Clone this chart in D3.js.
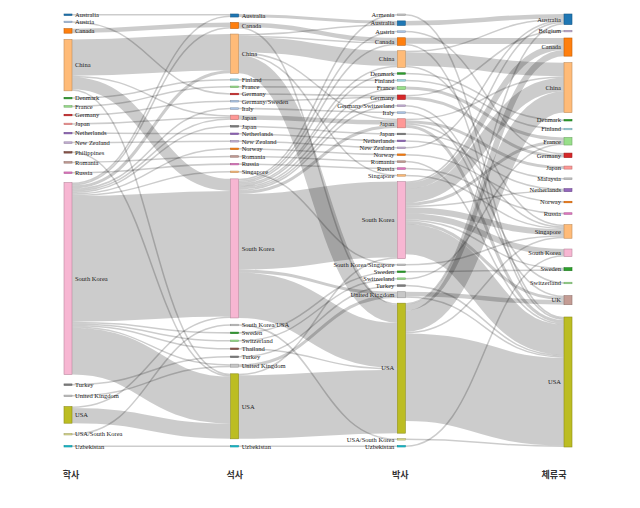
<!DOCTYPE html>
<html><head><meta charset="utf-8">
<script src="https://cdn.jsdelivr.net/npm/d3@7"></script>
<style>
html,body{margin:0;padding:0;background:#fff;}
svg{display:block;}
</style></head>
<body>
<svg id="chart" width="640" height="508"></svg>
<script>
// ---------------- DATA ----------------
const columnTitles = ["학사", "석사", "박사", "체류국"];

const bachelorNodes = ["Australia","Austria","Canada","China","Denmark","France","Germany","Japan","Netherlands","New Zealand","Philippines","Romania","Russia","South Korea","Turkey","United Kingdom","USA","USA/South Korea","Uzbekistan"];
const masterNodes = ["Australia","Canada","China","Finland","France","Germany","Germany/Sweden","Italy","Japan","Japan_2","Netherlands","New Zealand","Norway","Romania","Russia","Singapore","South Korea","South Korea/USA","Sweden","Switzerland","Thailand","Turkey","United Kingdom","USA","Uzbekistan"];
const phdNodes = ["Armenia","Australia","Austria","Canada","China","Denmark","Finland","France","Germany","Germany/Switzerland","Italy","Japan","Japan_2","Netherlands","New Zealand","Norway","Romania","Russia","Singapore","South Korea","South Korea/Singapore","Sweden","Switzerland","Turkey","United Kingdom","USA","USA/South Korea","Uzbekistan"];
const residenceNodes = ["Australia","Belgium","Canada","China","Denmark","Finland","France","Germany","Japan","Malaysia","Netherlands","Norway","Russia","Singapore","South Korea","Sweden","Switzerland","UK","USA"];

const bachelorToMaster = [
  ["Australia","Australia",1],
  ["Austria","Germany",1],
  ["Canada","Canada",3],
  ["China","China",24],["China","Japan",1],["China","South Korea",8],["China","USA",1],
  ["Denmark","Finland",1],
  ["France","France",1],
  ["Germany","Germany/Sweden",1],
  ["Japan","Japan",1],
  ["Netherlands","Netherlands",1],
  ["New Zealand","New Zealand",1],
  ["Philippines","USA",1],
  ["Romania","Romania",1],
  ["Russia","Russia",1],
  ["South Korea","Australia",1],["South Korea","Canada",1],["South Korea","China",2],["South Korea","Italy",1],
  ["South Korea","Japan",1],["South Korea","Japan_2",1],["South Korea","Norway",1],["South Korea","Singapore",1],
  ["South Korea","South Korea",83],["South Korea","Sweden",1],["South Korea","Switzerland",1],["South Korea","Thailand",1],
  ["South Korea","United Kingdom",1],["South Korea","USA",31],
  ["Turkey","Turkey",1],
  ["United Kingdom","United Kingdom",1],
  ["USA","South Korea",1],["USA","USA",10],
  ["USA/South Korea","South Korea/USA",1],
  ["Uzbekistan","Uzbekistan",1]
];

const masterToPhd = [
  ["Australia","Australia",2],
  ["Canada","Canada",3],["Canada","USA",1],
  ["China","Australia",1],["China","Canada",1],["China","China",10],["China","Japan",1],["China","Singapore",1],["China","USA",12],
  ["Finland","Finland",1],
  ["France","France",1],
  ["Germany","Germany",1],
  ["Germany/Sweden","Germany",1],
  ["Italy","Italy",1],
  ["Japan","Japan",3],
  ["Japan_2","Japan_2",1],
  ["Netherlands","Netherlands",1],
  ["New Zealand","New Zealand",1],
  ["Norway","Norway",1],
  ["Romania","Romania",1],
  ["Russia","Russia",1],
  ["Singapore","South Korea/Singapore",1],
  ["South Korea","Armenia",1],["South Korea","Austria",1],["South Korea","Canada",1],["South Korea","China",1],
  ["South Korea","Denmark",1],["South Korea","France",1],["South Korea","Germany",1],["South Korea","Germany/Switzerland",1],
  ["South Korea","Japan",2],["South Korea","South Korea",50],["South Korea","United Kingdom",2],["South Korea","USA",30],
  ["South Korea/USA","USA/South Korea",1],
  ["Sweden","Sweden",1],
  ["Switzerland","Switzerland",1],
  ["Thailand","USA",1],
  ["Turkey","Turkey",1],
  ["United Kingdom","United Kingdom",2],
  ["USA","South Korea",1],["USA","USA",42],
  ["Uzbekistan","Uzbekistan",1]
];

const phdToResidence = [
  ["Armenia","USA",1],
  ["Australia","Australia",3],
  ["Austria","Germany",1],
  ["Canada","Canada",4],["Canada","USA",1],
  ["China","Australia",1],["China","China",9],["China","Singapore",1],
  ["Denmark","Denmark",1],
  ["Finland","Finland",1],
  ["France","France",2],
  ["Germany","Belgium",1],["Germany","Germany",2],
  ["Germany/Switzerland","Switzerland",1],
  ["Italy","UK",1],
  ["Japan","China",1],["Japan","Japan",2],["Japan","Singapore",1],["Japan","USA",2],
  ["Japan_2","Malaysia",1],
  ["Netherlands","Netherlands",1],
  ["New Zealand","Australia",1],
  ["Norway","Norway",1],
  ["Romania","USA",1],
  ["Russia","Russia",1],
  ["Singapore","Singapore",1],
  ["South Korea","Australia",1],["South Korea","Canada",4],["South Korea","China",9],["South Korea","France",2],
  ["South Korea","Netherlands",1],["South Korea","Singapore",4],["South Korea","South Korea",4],["South Korea","Sweden",1],
  ["South Korea","UK",2],["South Korea","USA",20],
  ["South Korea/Singapore","Singapore",1],
  ["Sweden","Sweden",1],
  ["Switzerland","France",1],
  ["Turkey","USA",1],
  ["United Kingdom","UK",3],["United Kingdom","USA",1],
  ["USA","Australia",1],["USA","Canada",4],["USA","China",14],["USA","Singapore",1],["USA","USA",58],
  ["USA/South Korea","USA",1],
  ["Uzbekistan","South Korea",1]
];

// ---------------- STYLE ----------------
const nodeColors = {
  "Australia":"#1f77b4","Austria":"#aec7e8","Canada":"#ff7f0e","China":"#ffbb78","Denmark":"#2ca02c",
  "France":"#98df8a","Germany":"#d62728","Japan":"#ff9896","Netherlands":"#9467bd","New Zealand":"#c5b0d5",
  "Philippines":"#8c564b","Romania":"#c49c94","Russia":"#e377c2","South Korea":"#f7b6d2","Turkey":"#7f7f7f",
  "United Kingdom":"#c7c7c7","USA":"#bcbd22","USA/South Korea":"#dbdb8d","Uzbekistan":"#17becf",
  "Finland":"#9edae5","Germany/Sweden":"#aec7e8","Italy":"#aec7e8","Japan_2":"#7f7f7f","Norway":"#ff7f0e",
  "Singapore":"#ffbb78","South Korea/USA":"#c7c7c7","Sweden":"#2ca02c","Switzerland":"#98df8a","Thailand":"#8c564b",
  "Armenia":"#c7c7c7","Germany/Switzerland":"#c5b0d5","South Korea/Singapore":"#c7c7c7","Belgium":"#c5b0d5",
  "Malaysia":"#c7c7c7","UK":"#c49c94"
};

// ---------------- LAYOUT ----------------
const W = 640, H = 508;
const yTop = 14, yBottom = 447;
const nodeWidth = 8;
const minPad = 5.4;
const gapSkew = 0.9;   // spare space grows toward the bottom of each column
const columns = [bachelorNodes, masterNodes, phdNodes, residenceNodes];
const flowSets = [bachelorToMaster, masterToPhd, phdToResidence];

const xScale = d3.scalePoint().domain(d3.range(columns.length)).range([64, 564]);

const nodes = [];
const byId = new Map();
columns.forEach((names, ci) => {
  names.forEach((name, i) => {
    const n = {id: ci + "|" + name, name, label: name.replace(/_2$/, ""), col: ci, order: i, sourceLinks: [], targetLinks: []};
    nodes.push(n); byId.set(n.id, n);
  });
});
const links = [];
flowSets.forEach((set, ci) => {
  set.forEach(([s, t, v]) => {
    const source = byId.get(ci + "|" + s), target = byId.get((ci + 1) + "|" + t);
    const l = {source, target, value: v};
    links.push(l); source.sourceLinks.push(l); target.targetLinks.push(l);
  });
});
nodes.forEach(n => {
  n.value = Math.max(d3.sum(n.sourceLinks, l => l.value), d3.sum(n.targetLinks, l => l.value));
});

const colNodes = columns.map((_, ci) => nodes.filter(n => n.col === ci));
const avail = yBottom - yTop;
const ky = d3.min(colNodes, cn => (avail - (cn.length - 1) * minPad) / d3.sum(cn, n => n.value));
const vScale = d3.scaleLinear().domain([0, 1]).range([0, ky]);

colNodes.forEach(cn => {
  const total = d3.sum(cn, n => vScale(n.value));
  const g = cn.length - 1;
  const extra = Math.max(0, avail - total - g * minPad) / g;
  let y = yTop;
  cn.forEach((n, i) => {
    n.x0 = xScale(n.col); n.x1 = n.x0 + nodeWidth;
    n.y0 = y; n.y1 = y + vScale(n.value);
    const t = g > 1 ? i / (g - 1) : 0.5;
    y = n.y1 + minPad + extra * (1 + gapSkew * (2 * t - 1));
  });
});

nodes.forEach(n => {
  n.sourceLinks.sort((a, b) => a.target.y0 - b.target.y0);
  n.targetLinks.sort((a, b) => a.source.y0 - b.source.y0);
  let sy = n.y0, ty = n.y0;
  n.sourceLinks.forEach(l => { l.w = vScale(l.value); l.sy = sy + l.w / 2; sy += l.w; });
  n.targetLinks.forEach(l => { l.ty = ty + l.w / 2; ty += l.w; });
});

// ---------------- DRAW ----------------
const svg = d3.select("#chart");
svg.append("rect").attr("width", W).attr("height", H).attr("fill", "#fff");

const linkGen = d3.linkHorizontal()
  .source(d => [d.source.x1, d.sy])
  .target(d => [d.target.x0, d.ty]);

svg.append("g").attr("class", "links")
  .selectAll("path").data(links.slice().sort((a, b) => b.w - a.w)).join("path")
  .attr("d", linkGen)
  .attr("fill", "none")
  .attr("stroke", "#000")
  .attr("stroke-opacity", 0.2)
  .attr("stroke-width", d => Math.max(1, d.w));

const ng = svg.append("g").attr("class", "nodes")
  .selectAll("g").data(nodes).join("g");

ng.append("rect")
  .attr("x", d => d.x0)
  .attr("y", d => d.y0)
  .attr("width", nodeWidth)
  .attr("height", d => Math.max(1, d.y1 - d.y0))
  .attr("fill", d => nodeColors[d.name] || "#c7c7c7")
  .attr("stroke", d => d3.rgb(nodeColors[d.name] || "#c7c7c7").darker(0.8))
  .attr("stroke-width", 0.6);

ng.append("text")
  .attr("x", d => d.col < 2 ? d.x1 + 3 : d.x0 - 3)
  .attr("y", d => (d.y0 + d.y1) / 2)
  .attr("dy", "0.35em")
  .attr("text-anchor", d => d.col < 2 ? "start" : "end")
  .attr("font-family", "'Liberation Serif', serif")
  .attr("font-size", 6.5)
  .attr("fill", "#222")
  .text(d => d.label);

const titleOffsets = [3, 0, -1, -14];
svg.append("g").attr("class", "titles")
  .selectAll("text").data(columnTitles).join("text")
  .attr("x", (d, i) => xScale(i) + nodeWidth / 2 + titleOffsets[i])
  .attr("y", 478)
  .attr("text-anchor", "middle")
  .attr("font-family", "'Noto Sans CJK KR', sans-serif")
  .attr("font-size", 9)
  .attr("font-weight", "bold")
  .attr("fill", "#333")
  .text(d => d);
</script>
</body></html>
